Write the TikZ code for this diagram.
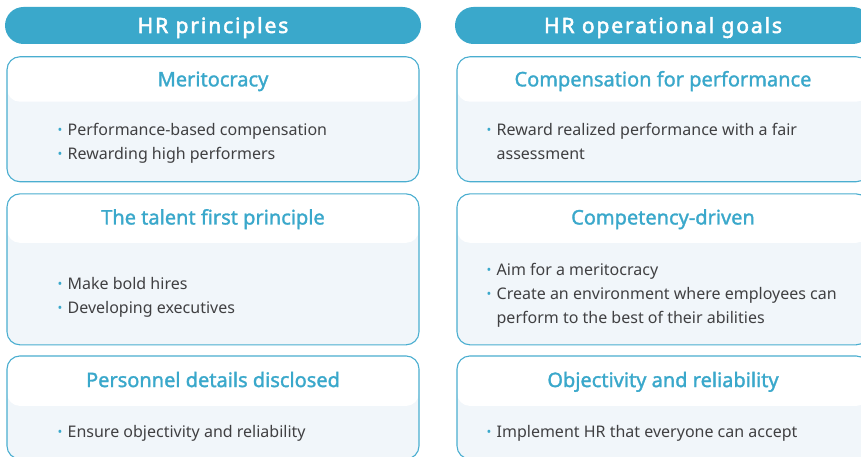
\documentclass[tikz,border=0pt]{standalone}
\usepackage{fontspec}
\setmainfont{Noto Sans}
\newfontfamily\headfont[LetterSpace=9, FakeBold=2.5]{Noto Sans}
\newfontfamily\titlefont[FakeBold=1.5]{Noto Sans}
\usepackage{graphicx}
\usetikzlibrary{positioning}
\definecolor{HRBlue}{RGB}{58,168,203}
\definecolor{HRLine}{RGB}{74,174,208}
\definecolor{HRPale}{RGB}{241,246,250}
\definecolor{HRText}{RGB}{64,64,66}
\newcommand{\Dot}{\makebox[10pt][l]{\textcolor{HRBlue}{\raisebox{0.1ex}{\scalebox{0.8}{\textbullet}}}}}

\begin{document}
\begin{tikzpicture}[x = 1pt, y = -1pt,
        Header/.style = {rectangle, rounded corners = 18.5, fill = HRBlue, text = white, inner sep = 0, minimum width = 416, minimum height = 37, text height = 15pt, text depth = 0pt, font = \headfont\fontsize{21}{24}\selectfont},
        %
        Card/.style = {rectangle, rounded corners = 13, draw = HRLine, line width = 1.1, fill = HRPale, inner sep = 0, minimum width = 412, path picture = {\fill[white] (path picture bounding box.north west) rectangle ([yshift = -#1]path picture bounding box.north east);}},
        Card/.default = 46pt,
        %
        Title/.style = {text = HRBlue, inner sep = 0, text height = 14.3pt, text depth = 0pt, font = \titlefont\fontsize{20}{24}\selectfont},
        %
        Item/.style = {anchor = base west, align = left, inner sep = 0, text = HRText, font = \fontsize{16}{24}\selectfont},
    ]
        \clip (0, 0) rectangle (861, 457);

        % Headers
        \node[Header] (Principles) at (213, 25.5) {HR principles};
        \node[Header] (Goals) at (663, 25.5) {HR operational goals};

        % Principles
        \node[Card = 45pt, minimum height = 125] (Merit) [below = 12pt of Principles] {};
        \node[Card = 49pt, minimum height = 151] (Talent) [below = 11pt of Merit] {};
        \node[Card = 50pt, minimum height = 103] (Disclosed) [below = 10pt of Talent] {};

        \node[Title] (MeritTitle) at ([yshift = -23pt]Merit.north) {Meritocracy};
        \node[Title] (TalentTitle) at ([yshift = -24pt]Talent.north) {The talent first principle};
        \node[Title] (DisclosedTitle) at ([yshift = -24.5pt]Disclosed.north) {Personnel details disclosed};

        % lists sit on the baseline of their last line
        \node[Item] (MeritList) at ([xshift = 51pt, yshift = -103pt]Merit.north west) {\Dot Performance-based compensation\\ \Dot Rewarding high performers};
        \node[Item] (TalentList) at ([xshift = 51pt, yshift = -120pt]Talent.north west) {\Dot Make bold hires\\ \Dot Developing executives};
        \node[Item] (DisclosedList) at ([xshift = 51pt, yshift = -81.7pt]Disclosed.north west) {\Dot Ensure objectivity and reliability};

        % Goals
        \node[Card = 45pt, minimum height = 125] (Reward) [below = 12pt of Goals] {};
        \node[Card = 49pt, minimum height = 151] (Competency) [below = 11pt of Reward] {};
        \node[Card = 50pt, minimum height = 103] (Objectivity) [below = 10pt of Competency] {};

        \node[Title] (RewardTitle) at ([yshift = -23pt]Reward.north) {Compensation for performance};
        \node[Title] (CompetencyTitle) at ([yshift = -24pt]Competency.north) {Competency-driven};
        \node[Title] (ObjectivityTitle) at ([yshift = -24.5pt]Objectivity.north) {Objectivity and reliability};

        \node[Item] (RewardList) at ([xshift = 30pt, yshift = -103pt]Reward.north west) {\Dot Reward realized performance with a fair\\ \phantom{\Dot}assessment};
        \node[Item] (CompetencyList) at ([xshift = 30pt, yshift = -130pt]Competency.north west) {\Dot Aim for a meritocracy\\ \Dot Create an environment where employees can\\ \phantom{\Dot}perform to the best of their abilities};
        \node[Item] (ObjectivityList) at ([xshift = 30pt, yshift = -81.7pt]Objectivity.north west) {\Dot Implement HR that everyone can accept};

    \end{tikzpicture}
\end{document}
